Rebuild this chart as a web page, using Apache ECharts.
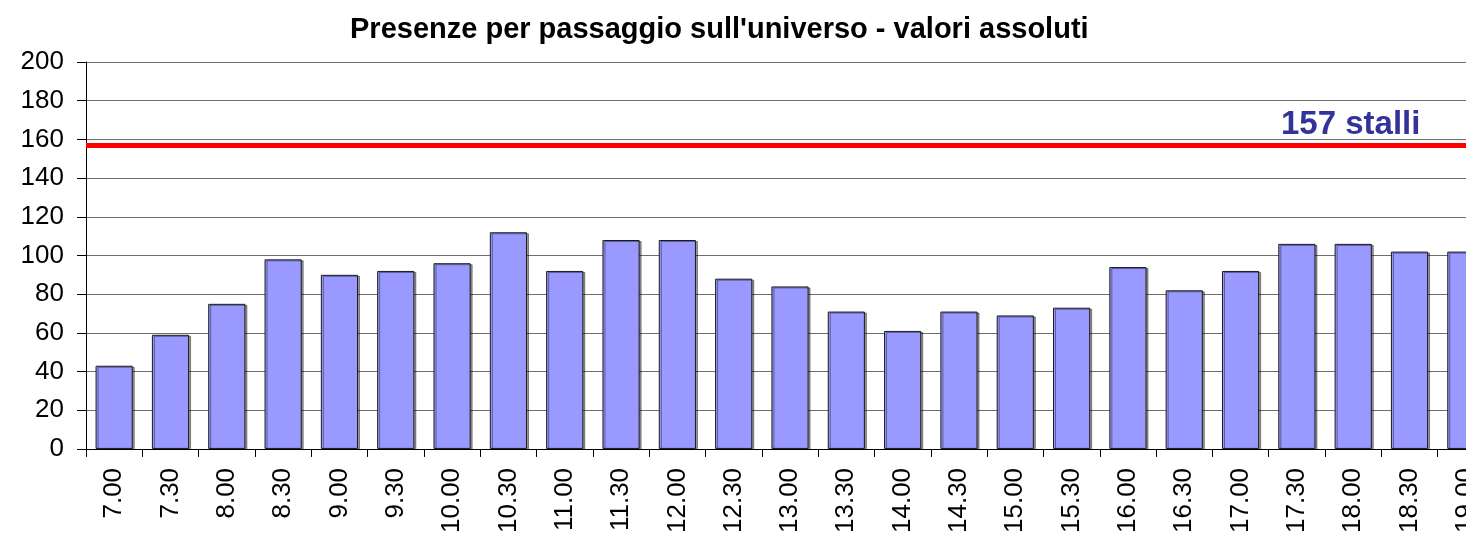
<!DOCTYPE html>
<html>
<head>
<meta charset="utf-8">
<title>Presenze per passaggio sull'universo - valori assoluti</title>
<script src="https://cdn.jsdelivr.net/npm/echarts@6/dist/echarts.min.js"></script>
<style>
  html, body { margin: 0; padding: 0; background: #ffffff; overflow: hidden; }
  /* the chart is wider than the window, so the last bar is cut at the right edge */
  #chart { width: 1494px; height: 536px; }
</style>
</head>
<body>
<div id="chart"></div>
<script>
// Half-hour survey passes
const categories = ['7.00', '7.30', '8.00', '8.30', '9.00', '9.30', '10.00', '10.30', '11.00',
  '11.30', '12.00', '12.30', '13.00', '13.30', '14.00', '14.30', '15.00', '15.30', '16.00',
  '16.30', '17.00', '17.30', '18.00', '18.30', '19.00'];

// Vehicles present at each pass
const presenze = [43, 59, 75, 98, 90, 92, 96, 112, 92, 108, 108, 88, 84, 71, 61, 71, 69, 73, 94,
  82, 92, 106, 106, 102, 102];

// Number of parking stalls available
const capacity = 157;

// Value axis ticks
const yTicks = [0, 20, 40, 60, 80, 100, 120, 140, 160, 180, 200];

const FONT = "'Liberation Sans', Arial, Helvetica, sans-serif";

const chart = echarts.init(document.getElementById('chart'), null, { renderer: 'canvas' });

chart.setOption({
  animation: false,
  backgroundColor: '#ffffff',
  title: {
    text: "Presenze per passaggio sull'universo - valori assoluti",
    left: 345,
    top: 10,
    textStyle: { fontFamily: FONT, fontSize: 29, fontWeight: 'bold', color: '#000000' }
  },
  grid: { left: 86, top: 62, right: 0, height: 390, containLabel: false },
  xAxis: {
    type: 'category',
    data: categories,
    boundaryGap: true,
    axisLine: { show: true, lineStyle: { color: '#000000', width: 1 } },
    axisTick: { show: true, length: 8, lineStyle: { color: '#000000' } },
    axisLabel: {
      rotate: 90,
      margin: 19,
      fontFamily: FONT,
      fontSize: 26,
      color: '#000000',
      interval: 0
    },
    splitLine: { show: false }
  },
  yAxis: {
    type: 'value',
    min: yTicks[0],
    max: yTicks[yTicks.length - 1],
    interval: yTicks[1] - yTicks[0],
    axisLine: { show: true, lineStyle: { color: '#000000', width: 1 } },
    axisTick: { show: true, length: 9, lineStyle: { color: '#000000' } },
    axisLabel: { margin: 22, fontFamily: FONT, fontSize: 26, color: '#000000' },
    splitLine: { show: true, lineStyle: { color: '#6e6e6e', width: 1 } }
  },
  series: [{
    type: 'bar',
    data: presenze,
    barCategoryGap: '34%',
    itemStyle: {
      color: '#9999ff',
      borderColor: '#1a1a1a',
      borderWidth: 1,
      shadowColor: 'rgba(0,0,0,0.4)',
      shadowOffsetX: 2,
      shadowOffsetY: 1,
      shadowBlur: 0
    },
    markLine: {
      silent: true,
      symbol: ['none', 'none'],
      label: { show: false },
      lineStyle: { color: '#ff0000', width: 5, type: 'solid' },
      data: [{ yAxis: capacity }]
    }
  }],
  graphic: [{
    type: 'text',
    left: 1281,
    top: 108,
    style: {
      text: capacity + ' stalli',
      fontFamily: FONT,
      fontSize: 33,
      fontWeight: 'bold',
      fill: '#333399'
    }
  }]
});
</script>
</body>
</html>
